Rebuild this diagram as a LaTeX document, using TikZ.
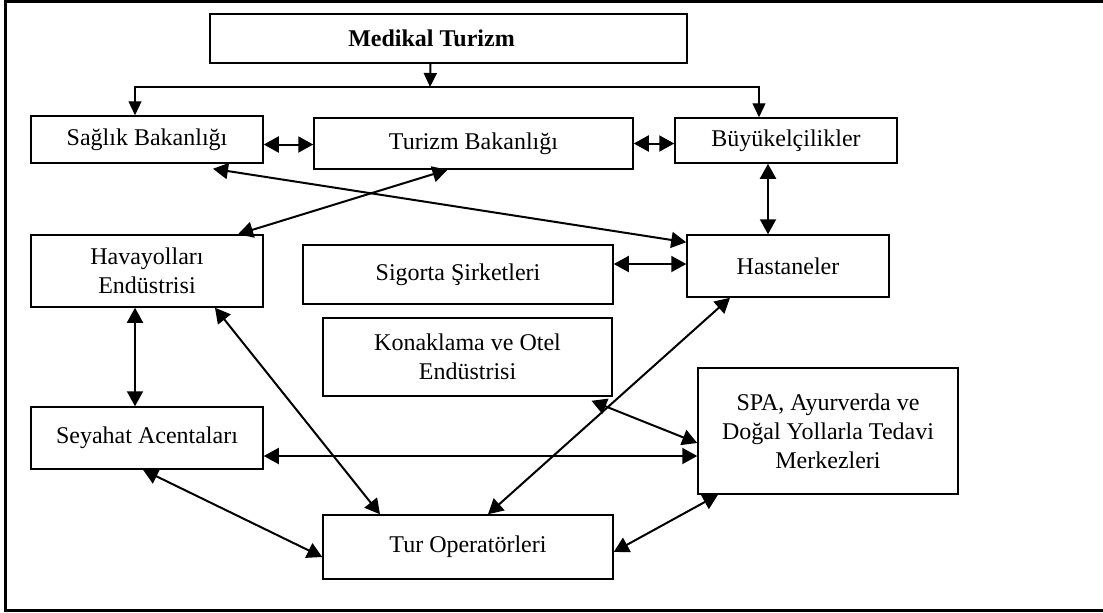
\documentclass[tikz,border=0pt]{standalone}
\usepackage{fontspec}
\setmainfont{Liberation Serif}
\usetikzlibrary{arrows.meta}

\begin{document}
\begin{tikzpicture}[x=0.5pt, y=-0.5pt,
  box/.style = {draw, line width=0.75pt, align=center, inner sep=0pt,
                font=\fontsize{12}{14.5}\selectfont},
  link/.style = {{Triangle[length=7.5pt,width=8pt]}-{Triangle[length=7.5pt,width=8pt]}, line width=1pt},
  down/.style = {-{Triangle[length=7pt,width=6.5pt]}, line width=1pt},
  ]
  \useasboundingbox (0,0) rectangle (1103,612);
  \draw[line width=1.5pt] (1103,1) -- (5,1) -- (5,610) -- (1103,610);

  \node[box, minimum width=238.5pt, minimum height=24.5pt] (med) at (448.5,38.5) {\textbf{Medikal Turizm}\hspace*{17pt}};
  \node[box, minimum width=116pt, minimum height=23.5pt] (sag) at (147,139.5) {Sağlık Bakanlığı};
  \node[box, minimum width=159.5pt, minimum height=25.5pt] (tur) at (473.5,143.5) {Turizm Bakanlığı};
  \node[box, minimum width=111pt, minimum height=22.5pt] (buy) at (786,140.5) {Büyükelçilikler};
  \node[box, minimum width=116pt, minimum height=36pt] (hav) at (147,271) {Havayolları\\Endüstrisi};
  \node[box, minimum width=155pt, minimum height=29.5pt] (sig) at (458,274.5) {Sigorta Şirketleri};
  \node[box, minimum width=101pt, minimum height=31pt] (has) at (788,266) {Hastaneler};
  \node[box, minimum width=144.5pt, minimum height=39pt] (kon) at (467.5,357) {Konaklama ve Otel\\Endüstrisi};
  \node[box, minimum width=116pt, minimum height=31pt] (sey) at (147,438) {Seyahat Acentaları};
  \node[box, minimum width=130pt, minimum height=63pt] (spa) at (828,431) {SPA, Ayurverda ve\\Doğal Yollarla Tedavi\\Merkezleri};
  \node[box, minimum width=145pt, minimum height=32pt] (tuo) at (468,547) {Tur Operatörleri};

  \coordinate (bus) at (430,87);
  \draw[down] ([xshift=-9pt]med.south) -- (bus);
  \draw[down, line width=0.6pt] (bus) -| ([xshift=-6pt]sag.north);
  \draw[down, line width=0.6pt] (bus) -| ([xshift=-13.5pt]buy.north);

  \draw[link] ([yshift=-2.5pt]sag.east) -- ([yshift=-2.5pt]sag.east -| tur.west);
  \draw[link] (tur.east) -- (tur.east -| buy.west);
  \draw[link] ([xshift=-9pt]buy.south) -- ([xshift=-9pt]buy.south |- has.north);
  \draw[link] ([yshift=1pt]has.west) -- ([yshift=1pt]has.west -| sig.east);
  \draw[link] ([xshift=33pt,yshift=-2.5pt]sag.south) -- ([yshift=-4pt]has.north west);
  \draw[link] ([xshift=-13pt]tur.south) -- ([xshift=45.5pt]hav.north);
  \draw[link] ([xshift=-6pt]hav.south) -- ([xshift=-6pt]sey.north);
  \draw[link] ([xshift=34pt]hav.south) -- ([xshift=-44pt]tuo.north);
  \draw[link] ([yshift=-9pt]sey.east) -- ([yshift=-9pt]sey.east -| spa.west);
  \draw[link] ([xshift=-2pt]sey.south) -- ([yshift=-5pt]tuo.west);
  \draw[link] ([xshift=10pt]tuo.north) -- ([xshift=-29pt]has.south);
  \draw[link] ([xshift=62pt,yshift=-2pt]kon.south) -- ([yshift=-6pt]spa.west);
  \draw[link] ([yshift=-2.5pt]tuo.east) -- ([xshift=-55pt]spa.south);
\end{tikzpicture}
\end{document}
